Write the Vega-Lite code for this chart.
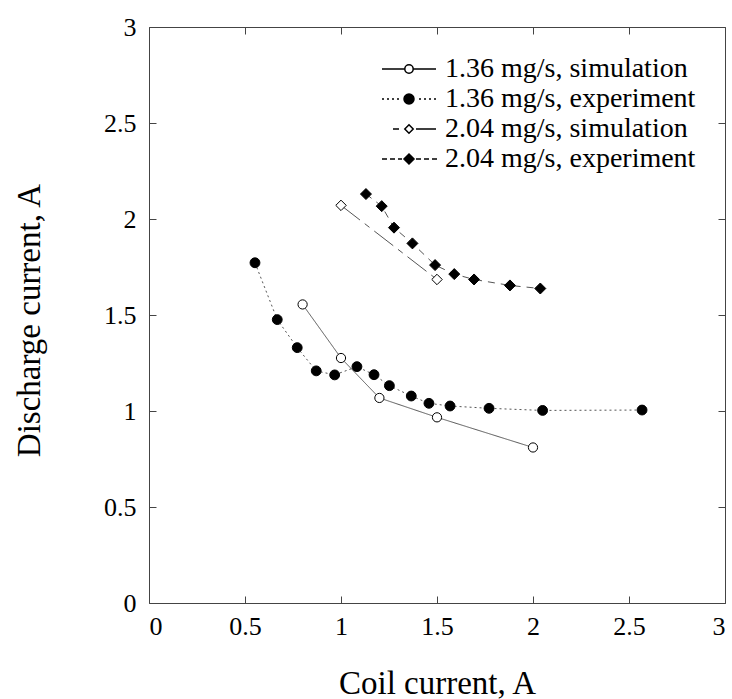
{
  "$schema": "https://vega.github.io/schema/vega-lite/v6.json",
  "width": 576,
  "height": 576,
  "autosize": {"type": "none"},
  "padding": {"left": 149, "top": 27, "right": 7, "bottom": 96},
  "background": "white",
  "config": {
    "font": "Liberation Serif",
    "view": {"stroke": "#444", "strokeWidth": 1},
    "axis": {
      "grid": false,
      "domain": false,
      "tickColor": "#444",
      "tickSize": -7,
      "labelFont": "Liberation Serif",
      "labelFontSize": 26,
      "labelColor": "black",
      "titleFont": "Liberation Serif",
      "titleFontSize": 33,
      "titleFontWeight": "normal",
      "titleColor": "black"
    }
  },
  "data": {
    "values": [
      {"x": 0.8, "y": 1.555, "series": "1.36 mg/s, simulation"},
      {"x": 1.0, "y": 1.276, "series": "1.36 mg/s, simulation"},
      {"x": 1.2, "y": 1.068, "series": "1.36 mg/s, simulation"},
      {"x": 1.5, "y": 0.967, "series": "1.36 mg/s, simulation"},
      {"x": 2.0, "y": 0.81, "series": "1.36 mg/s, simulation"},
      {"x": 0.552, "y": 1.772, "series": "1.36 mg/s, experiment"},
      {"x": 0.668, "y": 1.476, "series": "1.36 mg/s, experiment"},
      {"x": 0.772, "y": 1.33, "series": "1.36 mg/s, experiment"},
      {"x": 0.871, "y": 1.209, "series": "1.36 mg/s, experiment"},
      {"x": 0.967, "y": 1.188, "series": "1.36 mg/s, experiment"},
      {"x": 1.083, "y": 1.231, "series": "1.36 mg/s, experiment"},
      {"x": 1.172, "y": 1.189, "series": "1.36 mg/s, experiment"},
      {"x": 1.252, "y": 1.132, "series": "1.36 mg/s, experiment"},
      {"x": 1.366, "y": 1.078, "series": "1.36 mg/s, experiment"},
      {"x": 1.458, "y": 1.04, "series": "1.36 mg/s, experiment"},
      {"x": 1.568, "y": 1.026, "series": "1.36 mg/s, experiment"},
      {"x": 1.771, "y": 1.014, "series": "1.36 mg/s, experiment"},
      {"x": 2.05, "y": 1.003, "series": "1.36 mg/s, experiment"},
      {"x": 2.568, "y": 1.005, "series": "1.36 mg/s, experiment"},
      {"x": 1.0, "y": 2.071, "series": "2.04 mg/s, simulation"},
      {"x": 1.5, "y": 1.685, "series": "2.04 mg/s, simulation"},
      {"x": 1.13, "y": 2.13, "series": "2.04 mg/s, experiment"},
      {"x": 1.212, "y": 2.067, "series": "2.04 mg/s, experiment"},
      {"x": 1.276, "y": 1.955, "series": "2.04 mg/s, experiment"},
      {"x": 1.372, "y": 1.873, "series": "2.04 mg/s, experiment"},
      {"x": 1.49, "y": 1.76, "series": "2.04 mg/s, experiment"},
      {"x": 1.59, "y": 1.713, "series": "2.04 mg/s, experiment"},
      {"x": 1.693, "y": 1.685, "series": "2.04 mg/s, experiment"},
      {"x": 1.88, "y": 1.654, "series": "2.04 mg/s, experiment"},
      {"x": 2.038, "y": 1.638, "series": "2.04 mg/s, experiment"}
    ]
  },
  "layer": [
    {
      "mark": {"type": "line", "strokeWidth": 1, "color": "#555"},
      "encoding": {
        "x": {"field": "x", "type": "quantitative", "scale": {"domain": [0, 3], "nice": false, "zero": false},
              "axis": {"orient": "top", "labels": false, "title": null, "values": [0, 0.5, 1, 1.5, 2, 2.5, 3]}},
        "y": {"field": "y", "type": "quantitative", "scale": {"domain": [0, 3], "nice": false, "zero": false},
              "axis": {"orient": "right", "labels": false, "title": null, "values": [0, 0.5, 1, 1.5, 2, 2.5, 3]}},
        "strokeDash": {"field": "series", "type": "nominal",
          "scale": {"domain": ["1.36 mg/s, simulation", "1.36 mg/s, experiment", "2.04 mg/s, simulation", "2.04 mg/s, experiment"],
                    "range": [[1, 0], [2, 3], [24, 6, 6, 6], [7, 6]]},
          "legend": null}
      }
    },
    {
      "mark": {"type": "point", "filled": true, "stroke": "black", "strokeWidth": 1, "opacity": 1},
      "encoding": {
        "x": {"field": "x", "type": "quantitative", "scale": {"domain": [0, 3], "nice": false, "zero": false},
              "axis": {"orient": "bottom", "title": "Coil current, A", "values": [0, 0.5, 1, 1.5, 2, 2.5, 3], "format": "~g", "labelPadding": 17, "titleBaseline": "alphabetic", "titleY": 90}},
        "y": {"field": "y", "type": "quantitative", "scale": {"domain": [0, 3], "nice": false, "zero": false},
              "axis": {"orient": "left", "title": "Discharge current, A", "values": [0, 0.5, 1, 1.5, 2, 2.5, 3], "format": "~g", "labelPadding": 20, "titleBaseline": "alphabetic", "titleX": -110, "titleY": 293, "titleAngle": -90}},
        "shape": {"field": "series", "type": "nominal",
          "scale": {"domain": ["1.36 mg/s, simulation", "1.36 mg/s, experiment", "2.04 mg/s, simulation", "2.04 mg/s, experiment"],
                    "range": ["circle", "circle", "diamond", "diamond"]},
          "legend": null},
        "fill": {"field": "series", "type": "nominal",
          "scale": {"domain": ["1.36 mg/s, simulation", "1.36 mg/s, experiment", "2.04 mg/s, simulation", "2.04 mg/s, experiment"],
                    "range": ["white", "black", "white", "black"]},
          "legend": null},
        "size": {"field": "series", "type": "nominal",
          "scale": {"domain": ["1.36 mg/s, simulation", "1.36 mg/s, experiment", "2.04 mg/s, simulation", "2.04 mg/s, experiment"],
                    "range": [85, 121, 64, 100]},
          "legend": null}
      }
    },
    {
      "mark": {"type": "point", "filled": true, "stroke": "black", "strokeWidth": 1, "opacity": 0},
      "encoding": {
        "x": {"field": "x", "type": "quantitative", "axis": null},
        "y": {"field": "y", "type": "quantitative", "axis": null},
        "shape": {"field": "series", "type": "nominal",
          "scale": {"domain": ["1.36 mg/s, simulation", "1.36 mg/s, experiment", "2.04 mg/s, simulation", "2.04 mg/s, experiment"],
                    "range": [
                      "M-2.7,0L-0.42,0M0.42,0L2.7,0M0.42,0A0.42,0.42,0,1,1,-0.42,0A0.42,0.42,0,1,1,0.42,0Z",
                      "M-2.7,0L-2.5,0M-2.2,0L-2,0M-1.7,0L-1.5,0M-1.2,0L-1,0M1,0L1.2,0M1.5,0L1.7,0M2,0L2.2,0M2.5,0L2.7,0M0.5,0A0.5,0.5,0,1,1,-0.5,0A0.5,0.5,0,1,1,0.5,0Z",
                      "M-1.6,0L-1,0M0.7,0L2.7,0M0,-0.42L0.42,0L0,0.42L-0.42,0Z",
                      "M-2.7,0L-2.2,0M-1.9,0L-1.4,0M-1.1,0L-0.7,0M0.7,0L1.2,0M1.5,0L2,0M2.3,0L2.8,0M0,-0.5L0.5,0L0,0.5L-0.5,0Z"
                    ]},
          "legend": {"orient": "none", "legendX": 246, "legendY": 28, "title": null, "padding": 0,
                     "labelFont": "Liberation Serif", "labelFontSize": 28, "labelColor": "black", "labelOffset": 22, "labelLimit": 0,
                     "symbolSize": 400, "rowPadding": 2, "symbolOpacity": 1,
                     "encode": {"symbols": {"update": {"stroke": {"value": "black"}, "strokeWidth": {"value": 1}, "opacity": {"value": 1}}}}}},
        "fill": {"field": "series", "type": "nominal",
          "scale": {"domain": ["1.36 mg/s, simulation", "1.36 mg/s, experiment", "2.04 mg/s, simulation", "2.04 mg/s, experiment"],
                    "range": ["white", "black", "white", "black"]}}
      }
    }
  ],
  "resolve": {
    "scale": {"shape": "independent", "fill": "independent"},
    "axis": {"x": "independent", "y": "independent"}
  }
}
